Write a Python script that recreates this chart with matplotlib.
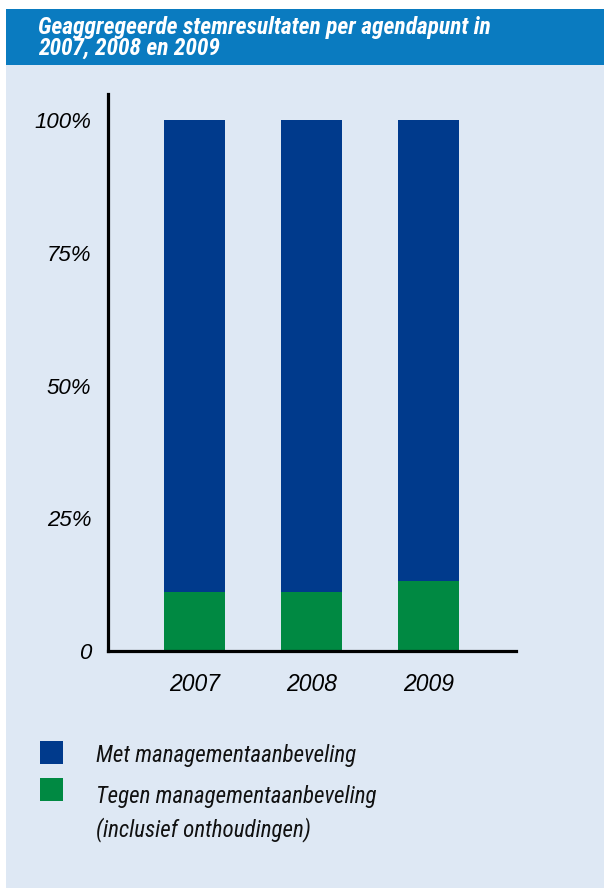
import matplotlib.pyplot as plt
from matplotlib.patches import Rectangle
from matplotlib import font_manager

# stemresultaten per jaar (in %)
years = ['2007', '2008', '2009']
tegen = [11.1, 11.1, 13.2]
met = [100 - t for t in tegen]
yticks = [0, 25, 50, 75, 100]
ytick_labels = ['0', '25%', '50%', '75%', '100%']
title_lines = ['Geaggregeerde stemresultaten per agendapunt in', '2007, 2008 en 2009']
legend_labels = ['Met managementaanbeveling', 'Tegen managementaanbeveling', '(inclusief onthoudingen)']

header_blue = '#0a7bc0'
bg_blue = '#dee8f4'
bar_blue = '#003a8c'
bar_green = '#008942'

names = {f.name for f in font_manager.fontManager.ttflist}
narrow = 'DejaVu Sans'
for cand in ['Liberation Sans Narrow', 'Roboto Condensed', 'DejaVu Sans Condensed', 'Roboto']:
    if cand in names:
        narrow = cand
        break

W, H = 604, 888
fig = plt.figure(figsize=(W / 100, H / 100), dpi=100, facecolor='white')
renderer = fig.canvas.get_renderer()

def fx(px):
    return px / W

def fy(py):
    return (H - py) / H

def fit_width(t, target):
    # schaal de fontgrootte zodat de tekst de gewenste breedte krijgt
    wpx = t.get_window_extent(renderer=renderer).width
    t.set_fontsize(t.get_fontsize() * target / wpx)

# achtergrond en kop
fig.patches.append(Rectangle((fx(6), 0), 1 - fx(6), fy(9), transform=fig.transFigure,
                             facecolor=bg_blue, edgecolor='none', zorder=-2))
fig.patches.append(Rectangle((fx(6), fy(65)), 1 - fx(6), fy(9) - fy(65), transform=fig.transFigure,
                             facecolor=header_blue, edgecolor='none', zorder=-1))
t1 = fig.text(fx(38), fy(34), title_lines[0], color='white', fontsize=15, fontweight='bold',
              style='italic', family=narrow, va='baseline')
fit_width(t1, 454)
fig.text(fx(38), fy(55), title_lines[1], color='white', fontsize=t1.get_fontsize(), fontweight='bold',
         style='italic', family=narrow, va='baseline')

ax = fig.add_axes([fx(108), fy(651), fx(516) - fx(108), fy(94) - fy(651)])
ax.set_zorder(2)
ax.patch.set_visible(False)

x = range(len(years))
w = 61 / 117
ax.bar(x, tegen, width=w, color=bar_green, zorder=2)
ax.bar(x, met, width=w, bottom=tegen, color=bar_blue, zorder=2)

ax.set_xlim(-(194.5 - 108) / 117, 2 + (516 - 428.5) / 117)
ax.set_ylim(0, (651 - 94) / 531 * 100)
ax.set_yticks(yticks)
ax.set_yticklabels(ytick_labels, fontsize=16, style='italic', family='Liberation Sans')
ax.set_xticks(list(x))
ax.set_xticklabels(years, fontsize=16.5, style='italic', family='Liberation Sans')
ax.tick_params(axis='both', length=0)
ax.tick_params(axis='y', pad=12)
ax.tick_params(axis='x', pad=16)
for s in ['top', 'right']:
    ax.spines[s].set_visible(False)
for s in ['left', 'bottom']:
    ax.spines[s].set_linewidth(2.3)
    ax.spines[s].set_color('black')

# legenda
fig.patches.append(Rectangle((fx(40), fy(764)), fx(63) - fx(40), fy(741) - fy(764),
                             transform=fig.transFigure, facecolor=bar_blue, edgecolor='none'))
fig.patches.append(Rectangle((fx(40), fy(801)), fx(63) - fx(40), fy(778) - fy(801),
                             transform=fig.transFigure, facecolor=bar_green, edgecolor='none'))
leg = []
for lbl, yy in zip(legend_labels, [755, 796, 830]):
    leg.append(fig.text(fx(96), fy(yy), lbl, fontsize=15, style='italic', family=narrow,
                        va='center', color='#111111'))
fit_width(leg[0], 260)
for t in leg[1:]:
    t.set_fontsize(leg[0].get_fontsize())

fig.savefig('out.png', dpi=100, facecolor='white')
